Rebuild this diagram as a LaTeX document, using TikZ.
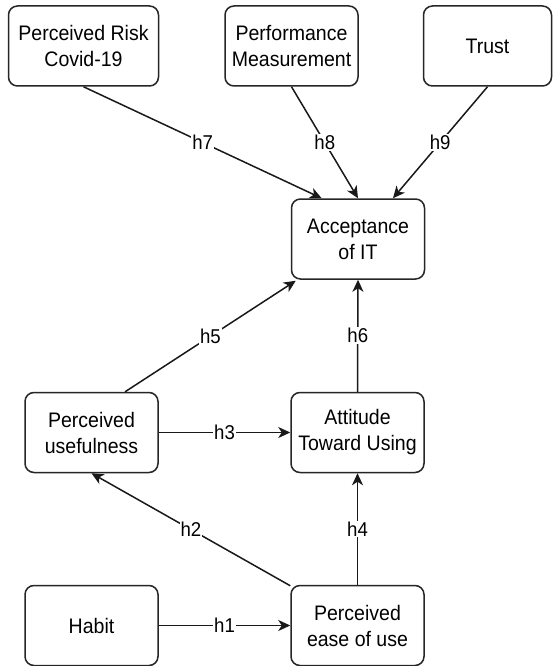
\documentclass[tikz,border=0pt]{standalone}
\usepackage{fontspec}
\setmainfont{Liberation Sans}[FakeStretch=0.93]
\usetikzlibrary{arrows.meta,calc}
\begin{document}
\begin{tikzpicture}[x=1pt,y=-1pt,
  box/.style={draw=black!85,line width=1.5pt,rounded corners=9pt,minimum width=133pt,minimum height=80pt,align=center,inner sep=0pt,font=\fontsize{21}{26}\selectfont},
  conn/.style={draw=black!90,line width=1.5pt,-{Stealth[length=12pt,width=11pt,inset=3.5pt]}},
  lbl/.style={fill=white,inner sep=1pt,font=\fontsize{20}{22}\selectfont}]
\useasboundingbox (0,0) rectangle (553,666);
\fill[white] (0,0) rectangle (553,666);
% nodes
\node[box,minimum width=150pt] (pr) at (83.5,46) {Perceived Risk\\Covid-19};
\node[box] (pm) at (291.5,46) {Performance\\Measurement};
\node[box,minimum width=128pt] (tr) at (487.5,46) {Trust};
\node[box] (ait) at (358,239) {Acceptance\\of IT};
\node[box] (pu) at (91.5,432.5) {Perceived\\usefulness};
\node[box] (atu) at (357.5,432.5) {Attitude\\Toward Using};
\node[box] (hab) at (91.5,625.5) {Habit};
\node[box] (peu) at (357.5,625.5) {Perceived\\ease of use};
% connectors
\draw[conn] (pr.south) -- node[lbl]{h7} ($(ait.north west)!0.23!(ait.north east)$);
\draw[conn] (pm.south) -- node[lbl]{h8} (ait.north);
\draw[conn] (tr.south) -- node[lbl]{h9} ($(ait.north west)!0.76!(ait.north east)$);
\draw[conn] ($(pu.north west)!0.75!(pu.north east)$) -- node[lbl]{h5} ($(ait.south west)+(5,1)$);
\draw[conn] (atu.north) -- node[lbl]{h6} (ait.south);
\draw[conn] (pu.east) -- node[lbl]{h3} (atu.west);
\draw[conn] ($(peu.north west)+(0,1)$) -- node[lbl]{h2} (pu.south);
\draw[conn] (peu.north) -- node[lbl]{h4} (atu.south);
\draw[conn] (hab.east) -- node[lbl]{h1} (peu.west);
\end{tikzpicture}
\end{document}
